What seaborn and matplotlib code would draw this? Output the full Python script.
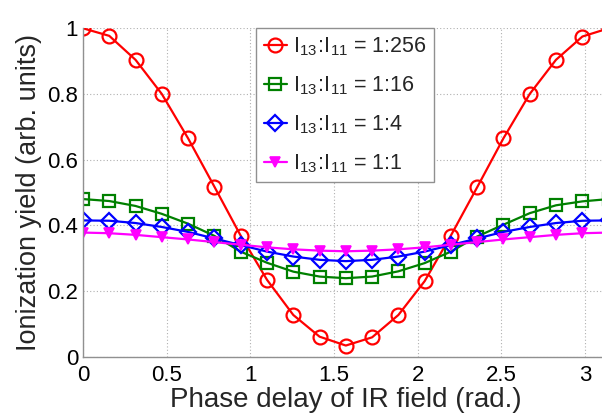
import numpy as np
import pandas as pd
import matplotlib
matplotlib.use("Agg")
import matplotlib.pyplot as plt
import seaborn as sns

# ---- data ----
phase = [0.000, 0.157, 0.314, 0.471, 0.628, 0.785, 0.942, 1.100, 1.257, 1.414, 1.571,
         1.728, 1.885, 2.042, 2.199, 2.356, 2.513, 2.670, 2.827, 2.985, 3.142]
yield_256 = [1.000, 0.977, 0.904, 0.800, 0.665, 0.518, 0.369, 0.234, 0.127, 0.061, 0.034,
             0.059, 0.127, 0.230, 0.369, 0.516, 0.665, 0.800, 0.904, 0.975, 1.000]
yield_16 = [0.480, 0.474, 0.459, 0.435, 0.405, 0.368, 0.320, 0.286, 0.259, 0.244, 0.239,
            0.244, 0.260, 0.285, 0.320, 0.366, 0.402, 0.437, 0.461, 0.473, 0.480]
yield_4 = [0.415, 0.414, 0.407, 0.395, 0.380, 0.360, 0.340, 0.320, 0.305, 0.295, 0.291,
           0.295, 0.305, 0.320, 0.340, 0.360, 0.380, 0.395, 0.407, 0.414, 0.415]
yield_1 = [0.378, 0.376, 0.371, 0.364, 0.357, 0.349, 0.341, 0.333, 0.327, 0.323, 0.321,
           0.323, 0.327, 0.333, 0.341, 0.349, 0.357, 0.364, 0.371, 0.376, 0.378]
series_labels = [r"$\mathregular{I_{13}\!:\!I_{11}}$ = 1:256",
                 r"$\mathregular{I_{13}\!:\!I_{11}}$ = 1:16",
                 r"$\mathregular{I_{13}\!:\!I_{11}}$ = 1:4",
                 r"$\mathregular{I_{13}\!:\!I_{11}}$ = 1:1"]
xticks = [0, 0.5, 1, 1.5, 2, 2.5, 3]
xtick_labels = ["0", "0.5", "1", "1.5", "2", "2.5", "3"]
yticks = [0, 0.2, 0.4, 0.6, 0.8, 1.0]
ytick_labels = ["0", "0.2", "0.4", "0.6", "0.8", "1"]

sns.set_theme(style="white")
plt.rcParams["font.family"] = ["Liberation Sans", "DejaVu Sans"]
plt.rcParams["mathtext.fontset"] = "custom"
plt.rcParams["mathtext.rm"] = "Liberation Sans"

W, H = 602, 419
fig = plt.figure(figsize=(W / 100, H / 100), dpi=100)
x0, x1 = 83, 608.6
y0, y1 = 356.7, 28.3
ax = fig.add_axes([x0 / W, 1 - y0 / H, (x1 - x0) / W, (y0 - y1) / H])

colors = ["#ff0000", "#008000", "#0000ff", "#ff00ff"]
styles = [
    dict(marker="o", markersize=10, markerfacecolor="none", markeredgewidth=1.6),
    dict(marker="s", markersize=8.5, markerfacecolor="none", markeredgewidth=1.6),
    dict(marker="D", markersize=8, markerfacecolor="none", markeredgewidth=1.6),
    dict(marker="v", markersize=7.5, markeredgewidth=1.2),
]
all_y = [yield_256, yield_16, yield_4, yield_1]
for yv, lab, col, st in zip(all_y, series_labels, colors, styles):
    df = pd.DataFrame({"phase": phase, "yield": yv})
    kw = dict(st)
    kw.setdefault("markerfacecolor", col)
    sns.lineplot(data=df, x="phase", y="yield", ax=ax, label=lab, linewidth=1.6,
                 color=col, markeredgecolor=col, dashes=False, **kw)

ax.set_xlim(0, np.pi)
ax.set_ylim(0, 1)
ax.set_xticks(xticks)
ax.set_xticklabels(xtick_labels)
ax.set_yticks(yticks)
ax.set_yticklabels(ytick_labels)
ax.grid(True, linestyle=(0, (1, 2)), color="#b0b0b0", linewidth=0.8)
for s in ["top", "right"]:
    ax.spines[s].set_visible(False)
for s in ["left", "bottom"]:
    ax.spines[s].set_color("#909090")
    ax.spines[s].set_linewidth(1.0)
ax.tick_params(axis="both", direction="in", length=4, width=0.8, color="#909090",
               labelsize=16, labelcolor="black")
ax.tick_params(axis="x", pad=6)
ax.tick_params(axis="y", pad=3.5)
ax.set_xlabel("Phase delay of IR field (rad.)", fontsize=20, labelpad=1)
ax.set_ylabel("Ionization yield (arb. units)", fontsize=19.5, labelpad=4)

leg = ax.legend(loc="upper left", bbox_to_anchor=((256 - x0) / (x1 - x0), 1.0),
                borderaxespad=0, fontsize=15.5, frameon=True, fancybox=False,
                handlelength=1.1, handletextpad=0.25, labelspacing=0.75,
                borderpad=0.35, edgecolor="#909090", framealpha=1)
leg.get_frame().set_linewidth(1.0)

fig.savefig("out.png", dpi=100)
